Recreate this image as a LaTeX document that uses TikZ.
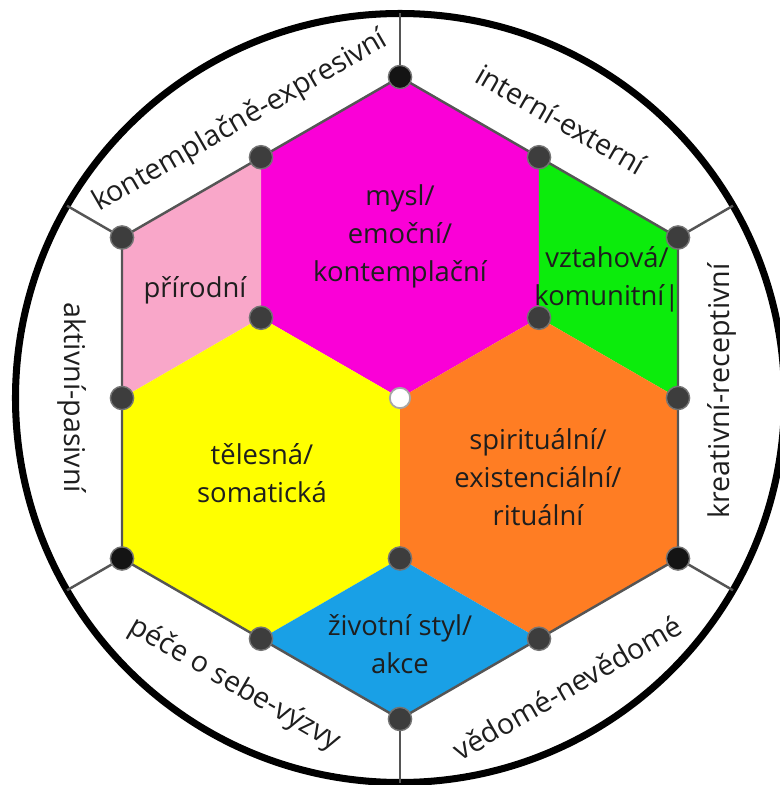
\documentclass[tikz,border=0pt]{standalone}
\usepackage{fontspec}
\setmainfont{Open Sans}
\usetikzlibrary{positioning}

\definecolor{mindc}{RGB}{250,0,215}
\definecolor{naturec}{RGB}{249,167,201}
\definecolor{relc}{RGB}{12,236,12}
\definecolor{bodyc}{RGB}{255,255,0}
\definecolor{spiritc}{RGB}{255,125,35}
\definecolor{lifec}{RGB}{25,160,230}
\definecolor{edgec}{RGB}{85,85,85}
\definecolor{txtc}{RGB}{30,30,30}

\begin{document}
\begin{tikzpicture}[
      font=\fontsize{7.8}{10.8}\selectfont, text=txtc,
      lbl/.style={align=center, inner sep=0pt},
      axis/.style={inner sep=0pt, font=\fontsize{8.15}{10}\selectfont},
      dot/.style={circle, fill=black!76, draw=black!55, line width=0.4pt, inner sep=0pt, minimum size=6.6pt},
      blackdot/.style={dot, fill=black!92},
      hub/.style={circle, fill=white, draw=black!35, line width=0.5pt, inner sep=0pt, minimum size=5.8pt},
      spoke/.style={draw=edgec, line width=0.7pt}
    ]
    \useasboundingbox (-4.00,-3.87) rectangle (3.79,3.98);
    \def\R{3.21}
    % ===== grid points =====
    \coordinate (o) at (0,0);
    \foreach \a in {90,30,-30,-90,-150,150}
      \coordinate (v\a) at (\a:\R);
    \foreach \a in {120,60,0,-60,-120,180}
      \coordinate (m\a) at (\a:{\R*cos(30)});
    \foreach \a in {150,30,-90}
      \coordinate (i\a) at (\a:{\R/2});
    \foreach \a in {90,30,-30,-90,-150,150}
      \coordinate (c\a) at (\a:3.845);

    % ===== coloured areas =====
    \fill[mindc]    (v90) -- (m60) -- (i30) -- (o) -- (i150) -- (m120) -- cycle;
    \fill[naturec]  (v150) -- (m120) -- (i150) -- (m180) -- cycle;
    \fill[relc]     (m60) -- (v30) -- (m0) -- (i30) -- cycle;
    \fill[bodyc]    (i150) -- (o) -- (i-90) -- (m-120) -- (v-150) -- (m180) -- cycle;
    \fill[spiritc]  (i30) -- (m0) -- (v-30) -- (m-60) -- (i-90) -- (o) -- cycle;
    \fill[lifec]    (i-90) -- (m-60) -- (v-90) -- (m-120) -- cycle;
    \draw[spoke] (v90) -- (v30) -- (v-30) -- (v-90) -- (v-150) -- (v150) -- cycle;

    % ===== outer ring =====
    \draw[line width=2pt] (o) circle (3.845);

    % ===== dots =====
    \foreach \a in {30,-90,150}
      \node[dot] (d\a) at (v\a) {};
    \foreach \a in {90,-30,-150}
      \node[blackdot] (d\a) at (v\a) {};
    \foreach \a in {120,60,0,-60,-120,180}
      \node[dot] (e\a) at (m\a) {};
    \foreach \a in {150,30,-90}
      \node[dot] (f\a) at (i\a) {};
    \node[hub] (h) at (o) {};

    % ===== spokes =====
    \foreach \a in {90,30,-30,-90,-150,150}
      \draw[spoke] (d\a) -- (c\a);

    % ===== area labels =====
    \node[lbl] (mind)   at (0,1.62)      {mysl/\\emoční/\\kontemplační};
    \node[lbl] (nature) at (-2.05,1.08)  {přírodní};
    \node[lbl] (rel)    at (2.07,1.19)   {vztahová/\\komunitní|};
    \node[lbl] (body)   at (-1.38,-0.75) {tělesná/\\somatická};
    \node[lbl] (spirit) at (1.38,-0.79)  {spirituální/\\existenciální/\\rituální};
    \node[lbl] (life)   at (0,-2.46)     {životní styl/\\akce};

    % ===== axis labels =====
    \node[axis, rotate=30]  (ke) at (120:3.19) {kontemplačně-expresivní};
    \node[axis, rotate=-30] (ie) at (60:3.22)  {interní-externí};
    \node[axis, rotate=90]  (kr) at (3.22,0.07) {kreativní-receptivní};
    \node[axis, rotate=30]  (vn) at (-60:3.34) {vědomé-nevědomé};
    \node[axis, rotate=-30] (ps) at (-120:3.31) {péče o sebe-výzvy};
    \node[axis, rotate=-90] (ap) at (-3.28,0)  {aktivní-pasivní};
    \end{tikzpicture}
\end{document}
